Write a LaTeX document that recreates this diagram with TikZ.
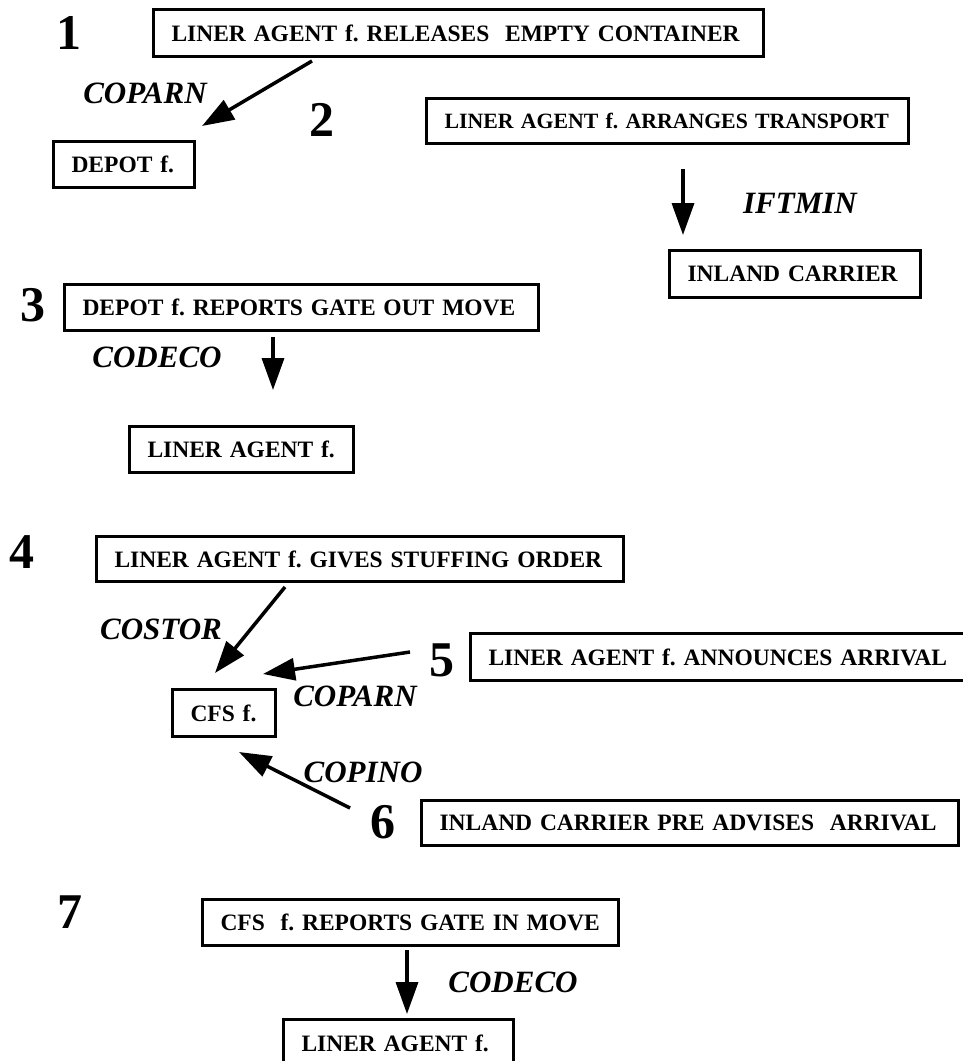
\documentclass[tikz,border=0pt]{standalone}
\usepackage{fontspec}
\setmainfont{Liberation Serif}
\usetikzlibrary{arrows.meta}
\begin{document}
\frenchspacing
\begin{tikzpicture}[x=1pt,y=-1pt,
  box/.style={draw, line width=3pt, inner xsep=18pt, inner ysep=0pt, outer sep=0pt,
    align=left, anchor=north west, font=\fontsize{23.5}{28}\selectfont\bfseries\frenchspacing},
  smallbox/.style={box, font=\fontsize{21.8}{26}\selectfont\bfseries\frenchspacing},
  msg/.style={inner sep=0pt, font=\fontsize{31}{36}\selectfont\bfseries\itshape},
  num/.style={inner sep=0pt, font=\fontsize{50}{56}\selectfont\bfseries},
  flow/.style={line width=3.5pt, -{Triangle[length=32pt,width=22pt]}}]
\useasboundingbox (0,0) rectangle (963,1061);
\clip (0,0) rectangle (963,1061);

% boxes
\node[box, text width=574pt, minimum height=47pt] (b1) at (153.5,9.5) {\mbox{LINER AGENT f. RELEASES \ EMPTY CONTAINER}};
\node[box, text width=105pt, minimum height=46pt] (depot) at (53.5,141.5) {\mbox{DEPOT f.}};
\node[smallbox, text width=446pt, minimum height=45pt] (b2) at (426.5,98.5) {\mbox{LINER AGENT f. ARRANGES TRANSPORT}};
\node[box, text width=215pt, minimum height=47pt] (inland) at (669.5,250.5) {\mbox{INLAND CARRIER}};
\node[box, text width=438pt, minimum height=46pt] (b3) at (64.5,284.5) {\mbox{DEPOT f. REPORTS GATE OUT MOVE}};
\node[box, text width=188pt, minimum height=46pt] (la1) at (129.5,426.5) {\mbox{LINER AGENT f.}};
\node[box, text width=491pt, minimum height=45pt] (b4) at (96.5,536.5) {\mbox{LINER AGENT f. GIVES STUFFING ORDER}};
\node[box, text width=561pt, minimum height=47pt] (b5) at (470.5,633.5) {\mbox{LINER AGENT f. ANNOUNCES ARRIVAL}};
\node[box, text width=67pt, minimum height=47pt] (cfs) at (172.5,689.5) {\mbox{CFS f.}};
\node[box, text width=501pt, minimum height=45pt] (b6) at (421.5,800.5) {\mbox{INLAND CARRIER PRE ADVISES \ ARRIVAL}};
\node[box, text width=380pt, minimum height=46pt] (b7) at (202.5,899.5) {\mbox{CFS \ f. REPORTS GATE IN MOVE}};
\node[box, text width=194pt, minimum height=47pt] (la2) at (283.5,1019.5) {\mbox{LINER AGENT f.}};

% step numbers
\node[num] (n1) at (69,33) {1};
\node[num] (n2) at (322,120) {2};
\node[num] (n3) at (33,305) {3};
\node[num] (n4) at (22,552) {4};
\node[num] (n5) at (442,660) {5};
\node[num] (n6) at (383,822) {6};
\node[num] (n7) at (70,912) {7};

% message labels
\node[msg] (m1) at (145,93) {COPARN};
\node[msg] (m2) at (800,203) {IFTMIN};
\node[msg] (m3) at (157,357) {CODECO};
\node[msg] (m4) at (161,629) {COSTOR};
\node[msg] (m5) at (355,696) {COPARN};
\node[msg] (m6) at (363,772) {COPINO};
\node[msg] (m7) at (513,982) {CODECO};

% arrow end points
\coordinate (a1s) at (312,61);  \coordinate (a1e) at (202,126);
\coordinate (a2s) at (683,169); \coordinate (a2e) at (683,235);
\coordinate (a3s) at (273,337); \coordinate (a3e) at (273,390);
\coordinate (a4s) at (285,587); \coordinate (a4e) at (215,673);
\coordinate (a5s) at (410,652); \coordinate (a5e) at (263,674);
\coordinate (a6s) at (350,808); \coordinate (a6e) at (239,752);
\coordinate (a7s) at (407,950); \coordinate (a7e) at (407,1014);

\draw[flow] (a1s) -- (a1e);
\draw[flow] (a2s) -- (a2e);
\draw[flow] (a3s) -- (a3e);
\draw[flow] (a4s) -- (a4e);
\draw[flow] (a5s) -- (a5e);
\draw[flow] (a6s) -- (a6e);
\draw[flow] (a7s) -- (a7e);
\end{tikzpicture}
\end{document}
